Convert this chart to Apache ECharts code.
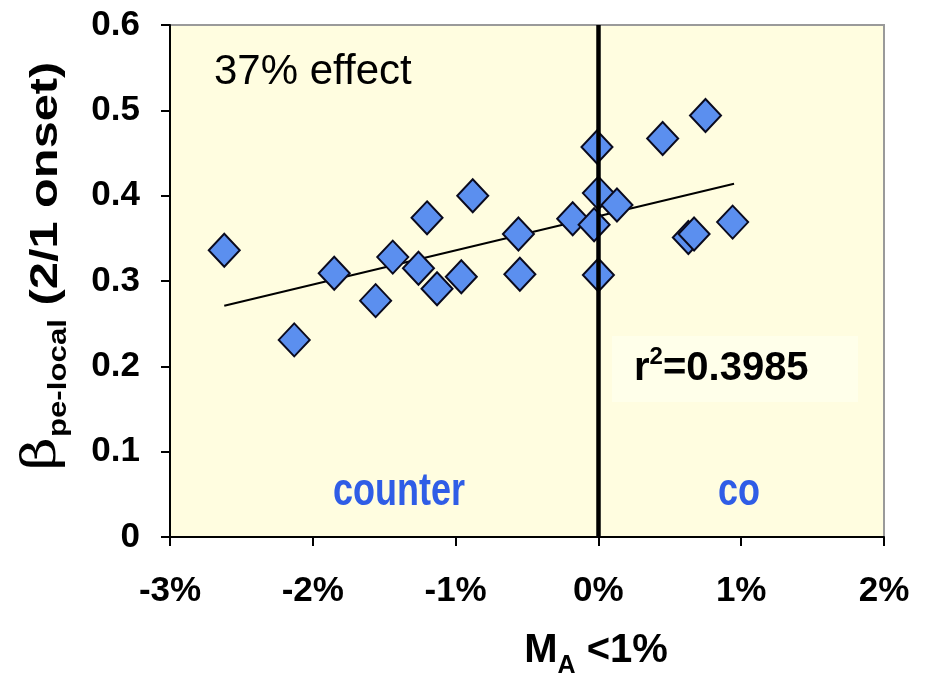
<!DOCTYPE html>
<html>
<head>
<meta charset="utf-8">
<script src="https://cdn.jsdelivr.net/npm/echarts@6/dist/echarts.min.js"></script>
<style>
  html, body { margin: 0; padding: 0; background: #fff; }
  #chart { width: 926px; height: 675px; }
</style>
</head>
<body>
<div id="chart"></div>
<script>
// M_A (%) and beta values
var maValues = [-2.62, -2.13, -1.85, -1.56, -1.20, -1.44, -1.26, -1.13, -0.96, -0.88, -0.56, -0.55,
  -0.18, -0.03, -0.01, 0.0, 0.0, 0.13, 0.45, 0.75, 0.63, 0.67, 0.94]
var betaValues = [0.336, 0.231, 0.309, 0.277, 0.374, 0.328, 0.315, 0.291, 0.305, 0.400, 0.355, 0.308,
  0.373, 0.366, 0.457, 0.403, 0.307, 0.389, 0.467, 0.494, 0.351, 0.355, 0.369]
// linear fit end points
var trendX = [-2.62, 0.95]
var trendY = [0.271, 0.414]
var yTicks = [0, 0.1, 0.2, 0.3, 0.4, 0.5, 0.6]
var xTicks = [-3, -2, -1, 0, 1, 2]

var points = maValues.map(function (x, i) { return [x, betaValues[i]] })
var trend = trendX.map(function (x, i) { return [x, trendY[i]] })

var chart = echarts.init(document.getElementById('chart'))
var labelFont = 'Liberation Sans, Arial, sans-serif'
var blue = '#2f5de6'

chart.setOption({
  animation: false,
  grid: {
    left: 170,
    right: 42,
    top: 25,
    bottom: 138,
    show: true,
    backgroundColor: '#fffde0',
    borderColor: '#9a9a9a',
    borderWidth: 2
  },
  xAxis: {
    type: 'value',
    min: xTicks[0],
    max: xTicks[xTicks.length - 1],
    interval: 1,
    splitLine: { show: false },
    axisLine: { onZero: false, lineStyle: { color: '#000', width: 2 } },
    axisTick: { inside: false, length: 9, lineStyle: { color: '#000', width: 2 } },
    axisLabel: {
      margin: 37,
      fontSize: 35,
      fontWeight: 'bold',
      fontFamily: labelFont,
      color: '#000',
      formatter: function (v) { return v + '%' }
    }
  },
  yAxis: {
    type: 'value',
    min: yTicks[0],
    max: yTicks[yTicks.length - 1],
    interval: 0.1,
    splitLine: { show: false },
    axisLine: { onZero: false, lineStyle: { color: '#000', width: 2 } },
    axisTick: { inside: false, length: 9, lineStyle: { color: '#000', width: 2 } },
    axisLabel: {
      margin: 30,
      fontSize: 35,
      fontWeight: 'bold',
      fontFamily: labelFont,
      color: '#000',
      formatter: function (v) { return v === 0 ? '0' : v.toFixed(1) }
    }
  },
  series: [
    {
      type: 'line',
      data: trend,
      symbol: 'none',
      lineStyle: { color: '#000', width: 2 },
      z: 2,
      markLine: {
        silent: true,
        symbol: 'none',
        label: { show: false },
        lineStyle: { color: '#000', width: 4.5, type: 'solid' },
        data: [{ xAxis: 0 }]
      }
    },
    {
      type: 'scatter',
      data: points,
      symbol: 'diamond',
      symbolSize: [31, 33],
      itemStyle: { color: '#5b8fef', borderColor: '#0a0a1e', borderWidth: 2, opacity: 1 },
      z: 3
    }
  ],
  graphic: [
    // y axis title, rotated
    {
      type: 'text', x: 44, y: 266, rotation: Math.PI / 2, scaleX: 1.25,
      style: {
        text: '{b|β}{s|pe-local}{n| (2/1 onset)}',
        align: 'center',
        verticalAlign: 'middle',
        rich: {
          b: { fontSize: 46, fontFamily: 'DejaVu Serif, serif', fill: '#000', verticalAlign: 'bottom', lineHeight: 56, padding: [0, 0, 6, 0] },
          s: { fontSize: 25, fontWeight: 'bold', fontFamily: labelFont, fill: '#000', verticalAlign: 'bottom', lineHeight: 56 },
          n: { fontSize: 39, fontWeight: 'bold', fontFamily: labelFont, fill: '#000', verticalAlign: 'bottom', lineHeight: 56, padding: [0, 0, 6, 0] }
        }
      }
    },
    // x axis title
    {
      type: 'text', x: 596, y: 654,
      style: {
        text: '{m|M}{s|A}{m| <1%}',
        align: 'center',
        verticalAlign: 'middle',
        rich: {
          m: { fontSize: 40, fontWeight: 'bold', fontFamily: labelFont, fill: '#000', verticalAlign: 'bottom', lineHeight: 50, padding: [0, 0, 8, 0] },
          s: { fontSize: 25, fontWeight: 'bold', fontFamily: labelFont, fill: '#000', verticalAlign: 'bottom', lineHeight: 50 }
        }
      }
    },
    {
      type: 'text', x: 214, y: 72,
      style: { text: '37% effect', fontSize: 42, fontFamily: labelFont, fill: '#000', align: 'left', verticalAlign: 'middle' }
    },
    {
      type: 'rect', shape: { x: 612, y: 336, width: 246, height: 66 },
      style: { fill: '#ffffea' }, z: 1
    },
    {
      type: 'text', x: 634, y: 366, z: 5,
      style: {
        text: '{m|r}{p|2}{m|=0.3985}',
        align: 'left',
        verticalAlign: 'middle',
        rich: {
          m: { fontSize: 40, fontWeight: 'bold', fontFamily: labelFont, fill: '#000', verticalAlign: 'bottom', lineHeight: 46 },
          p: { fontSize: 24, fontWeight: 'bold', fontFamily: labelFont, fill: '#000', verticalAlign: 'top', lineHeight: 46, padding: [2, 0, 0, 0] }
        }
      }
    },
    {
      type: 'text', x: 399, y: 492, scaleY: 1.3,
      style: { text: 'counter', fontSize: 36, fontWeight: 'bold', fontFamily: labelFont, fill: blue, align: 'center', verticalAlign: 'middle' }
    },
    {
      type: 'text', x: 739, y: 492, scaleY: 1.3,
      style: { text: 'co', fontSize: 36, fontWeight: 'bold', fontFamily: labelFont, fill: blue, align: 'center', verticalAlign: 'middle' }
    }
  ]
})
</script>
</body>
</html>
